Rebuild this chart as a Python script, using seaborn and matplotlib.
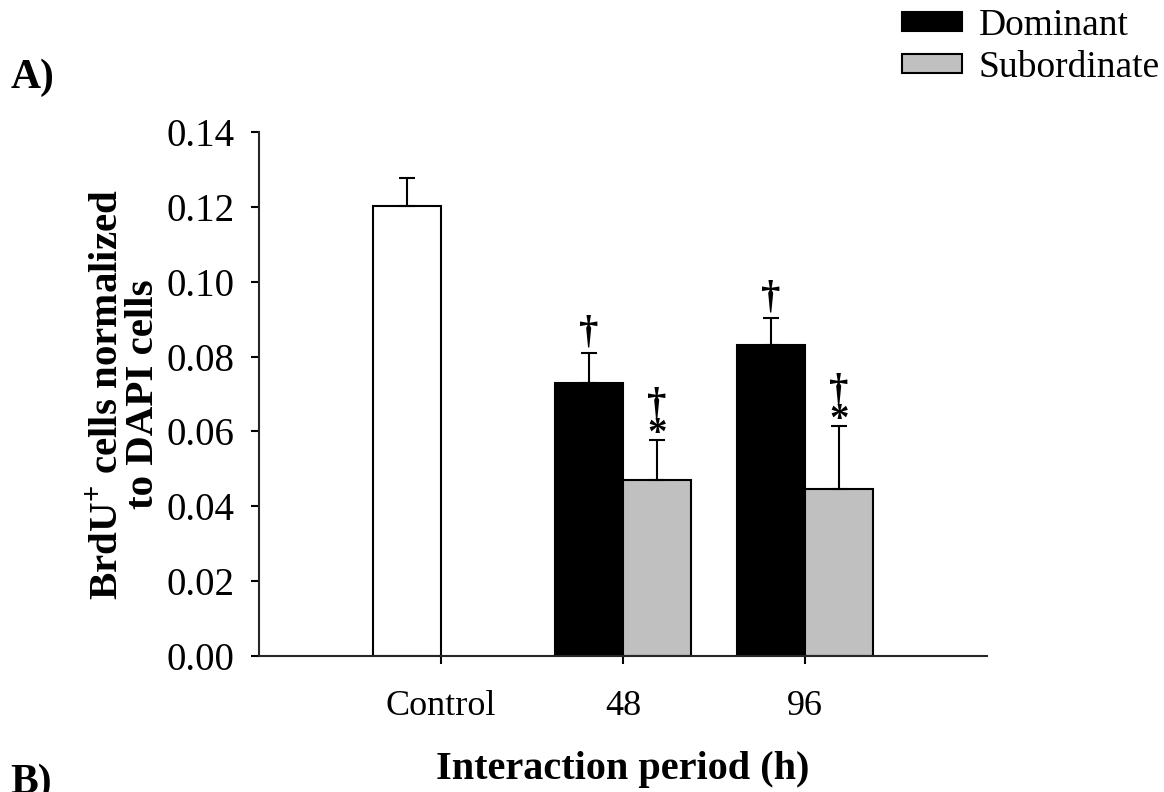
import matplotlib
matplotlib.use("Agg")
import matplotlib.pyplot as plt
from matplotlib.patches import Patch
import seaborn as sns
import pandas as pd

# Mean BrdU+/DAPI ratios and their standard errors
period = ["Control", "48", "48", "96", "96"]
status = ["Control", "Dominant", "Subordinate", "Dominant", "Subordinate"]
slot = ["left", "left", "right", "left", "right"]
mean = [0.1202, 0.0729, 0.0470, 0.0831, 0.0446]
sem = [0.0075, 0.0081, 0.0107, 0.0072, 0.0168]
marks = ["", "\u2020", "\u2020\n*", "\u2020", "\u2020\n*"]

period_order = ["Control", "48", "96"]
yticks = [0.00, 0.02, 0.04, 0.06, 0.08, 0.10, 0.12, 0.14]

df = pd.DataFrame({"period": period, "status": status, "slot": slot,
                   "mean": mean, "sem": sem, "mark": marks})

sns.set_theme(style="ticks")
plt.rcParams["font.family"] = ["Liberation Serif", "DejaVu Serif"]
plt.rcParams["mathtext.fontset"] = "custom"
plt.rcParams["mathtext.rm"] = "Liberation Serif"
plt.rcParams["mathtext.bf"] = "Liberation Serif:bold"
plt.rcParams["text.color"] = "black"
plt.rcParams["axes.labelcolor"] = "black"

fig = plt.figure(figsize=(11.64, 7.92), dpi=100)
ax = fig.add_axes([0.2225, 0.1717, 0.6254, 0.6616])

palette = {"left": "black", "right": "#c0c0c0"}
sns.barplot(data=df, x="period", y="mean", hue="slot", order=period_order,
            hue_order=["left", "right"], palette=palette, width=0.75,
            errorbar=None, edgecolor="black", linewidth=1.5, saturation=1,
            legend=False, ax=ax)

# Control bar is drawn hollow
for bar in ax.patches:
    h = bar.get_height()
    if h > 0 and abs(h - mean[0]) < 1e-9:
        bar.set_facecolor("white")

half = 0.75 / 4
for _, row in df.iterrows():
    xc = period_order.index(row["period"]) + (-half if row["slot"] == "left" else half)
    ax.errorbar(xc, row["mean"], yerr=[[0], [row["sem"]]], fmt="none",
                ecolor="black", elinewidth=1.5, capsize=6, capthick=1.5)
    top = row["mean"] + row["sem"]
    m = row["mark"]
    if m:
        dy = -9 if "*" in m else 1
        ax.annotate(m, xy=(xc, top), xytext=(0, dy), textcoords="offset points",
                    ha="center", va="bottom", fontsize=28, fontweight="bold",
                    linespacing=0.72)

ax.set_xlim(-1, 3)
ax.set_ylim(0, 0.14)
ax.set_yticks(yticks)
ax.set_yticklabels([f"{v:.2f}" for v in yticks])
sns.despine(ax=ax)
for s in ["left", "bottom"]:
    ax.spines[s].set_linewidth(1.5)
ax.tick_params(axis="both", direction="out", width=1.5, length=5.5,
               color="black", labelcolor="black")
ax.tick_params(axis="y", labelsize=28, pad=12)
ax.tick_params(axis="x", labelsize=26, pad=19)

ax.set_xlabel("Interaction period (h)", fontsize=29, fontweight="bold", labelpad=20)
ax.set_ylabel("BrdU$^{\\mathbf{+}}$ cells normalized\nto DAPI cells", fontsize=29.5,
              fontweight="bold", labelpad=3, linespacing=0.95)

handles = [Patch(facecolor="black", edgecolor="black", linewidth=1.5, label="Dominant"),
           Patch(facecolor="#c0c0c0", edgecolor="black", linewidth=1.5, label="Subordinate")]
fig.legend(handles=handles, loc="upper right", bbox_to_anchor=(1.011, 1.011),
           frameon=False, fontsize=27, handlelength=1.6, handleheight=0.4,
           handletextpad=0.45, labelspacing=0.2, borderaxespad=0.05)

fig.text(0.009, 0.902, "A)", fontsize=30, fontweight="bold", va="center", ha="left")
fig.text(0.009, 0.012, "B)", fontsize=30, fontweight="bold", va="center", ha="left")

fig.savefig("out.png", dpi=100)
